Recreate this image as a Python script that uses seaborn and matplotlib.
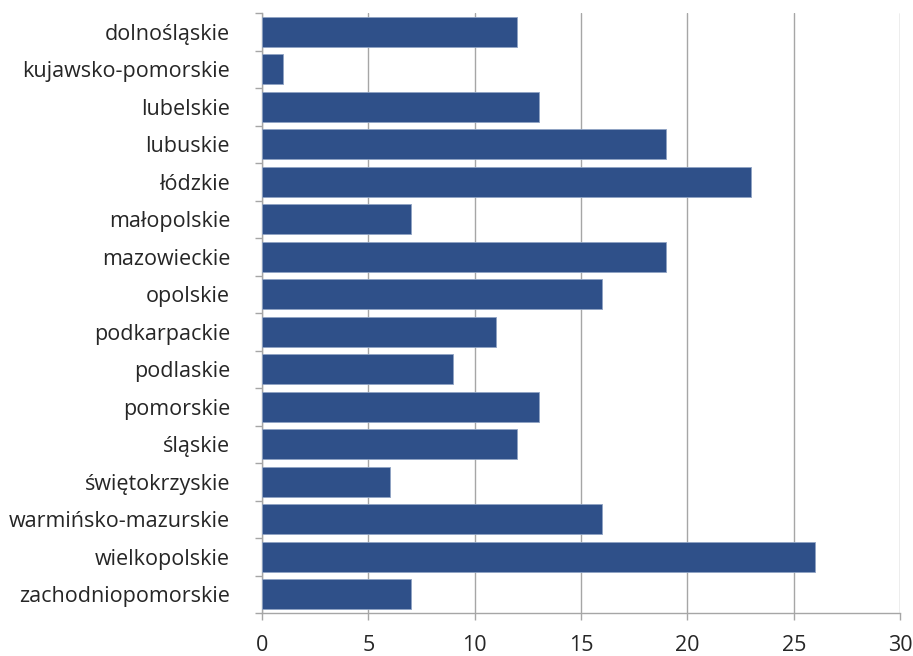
import numpy as np
import pandas as pd
import seaborn as sns
from matplotlib import pyplot as plt
from matplotlib.ticker import FixedLocator

regions = [
    'dolnośląskie', 'kujawsko-pomorskie', 'lubelskie', 'lubuskie', 'łódzkie', 'małopolskie',
    'mazowieckie', 'opolskie', 'podkarpackie', 'podlaskie', 'pomorskie', 'śląskie',
    'świętokrzyskie', 'warmińsko-mazurskie', 'wielkopolskie', 'zachodniopomorskie']
counts = [12, 1, 13, 19, 23, 7, 19, 16, 11, 9, 13, 12, 6, 16, 26, 7]
x_ticks = [0, 5, 10, 15, 20, 25, 30]

sns.set_style('white')
plt.rcParams['font.family'] = ['Open Sans', 'DejaVu Sans']

df = pd.DataFrame({'region': regions, 'count': counts})

fig = plt.figure(figsize=(9.13, 6.56), dpi=100)
ax = fig.add_axes([0.287, 0.0655, 0.699, 0.9146])
sns.barplot(df, x='count', y='region', orient='h', color='#2F5089', saturation=1,
            width=0.8, edgecolor='#8FA3C4', linewidth=0.6, ax=ax, zorder=3)

ax.set_xlim(0, 30)
ax.set_ylim(len(regions) - 0.5, -0.5)
ax.set_xticks(x_ticks)
ax.xaxis.grid(True, color='#A6A6A6', linewidth=1, zorder=0)
ax.set_xlabel('')
ax.set_ylabel('')

# category boundary ticks on the y axis
ax.yaxis.set_minor_locator(FixedLocator(np.arange(-0.5, len(regions), 1)))
ax.tick_params(axis='y', which='major', length=0, labelsize=15.5, labelcolor='#262626', pad=23)
ax.tick_params(axis='y', which='minor', length=5, color='#A6A6A6', width=1, left=True)
ax.tick_params(axis='x', which='major', length=5, color='#A6A6A6', width=1, bottom=True,
               labelsize=15.5, labelcolor='#262626', pad=10.5)

for side in ['top', 'right']:
    ax.spines[side].set_visible(False)
for side in ['left', 'bottom']:
    ax.spines[side].set_color('#A6A6A6')
    ax.spines[side].set_linewidth(1)

fig.savefig('out.png', dpi=100)
